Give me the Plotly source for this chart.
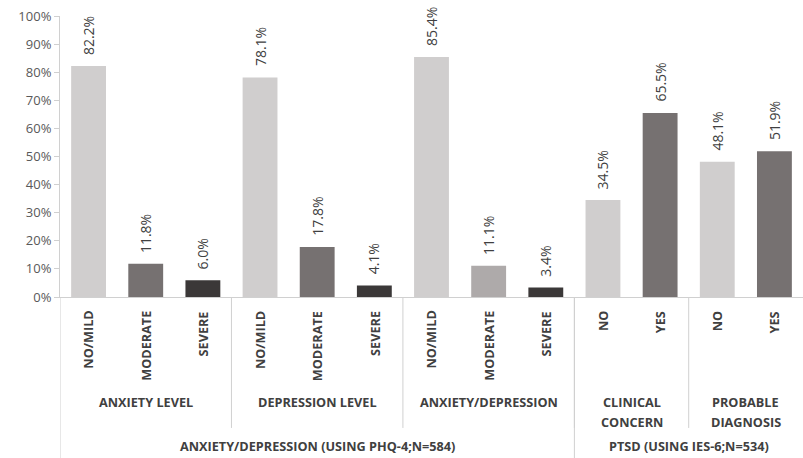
import plotly.graph_objects as go

# Three-level category structure and percentages
outer_groups = ["ANXIETY/DEPRESSION (USING PHQ-4;N=584)"] * 9 + ["PTSD (USING IES-6;N=534)"] * 4
inner_groups = (["ANXIETY LEVEL"] * 3 + ["DEPRESSION LEVEL"] * 3 + ["ANXIETY/DEPRESSION"] * 3
                + ["CLINICAL<br>CONCERN"] * 2 + ["PROBABLE<br>DIAGNOSIS"] * 2)
levels = ["NO/MILD", "MODERATE", "SEVERE", "NO/MILD", "MODERATE", "SEVERE",
          "NO/MILD", "MODERATE", "SEVERE", "NO", "YES", "NO", "YES"]
values = [82.2, 11.8, 6.0, 78.1, 17.8, 4.1, 85.4, 11.1, 3.4, 34.5, 65.5, 48.1, 51.9]

LIGHT, MID, PALE, DARK = "#d0cece", "#767171", "#aeaaaa", "#3b3838"
bar_colors = [LIGHT, MID, DARK, LIGHT, MID, DARK, LIGHT, PALE, DARK, LIGHT, MID, LIGHT, MID]

FONT = "Open Sans"
TXT = "#404040"
LINE = "#d0d0d0"
CAT_SIZE = 12.7

x = list(range(len(values)))

fig = go.Figure()
fig.add_trace(go.Bar(
    x=x, y=values, width=0.61,
    marker=dict(color=bar_colors, line=dict(width=0)),
    hoverinfo="skip",
))

annotations = []
# value labels above bars, rotated
for xi, v in zip(x, values):
    annotations.append(dict(
        x=xi, y=v, xref="x", yref="y", text=f"{v:.1f}%", showarrow=False,
        textangle=-90, yanchor="bottom", xanchor="center", yshift=9,
        font=dict(family=FONT, size=14, color=TXT),
    ))

# innermost category labels
for xi, lab in zip(x, levels):
    annotations.append(dict(
        x=xi, y=-0.043, xref="x", yref="paper", text=f"<b>{lab}</b>", showarrow=False,
        textangle=-90, yanchor="top", xanchor="center",
        font=dict(family=FONT, size=CAT_SIZE, color=TXT),
    ))


def spans(names):
    out = []
    start = 0
    for i in range(1, len(names) + 1):
        if i == len(names) or names[i] != names[start]:
            out.append((names[start], start, i - 1))
            start = i
    return out


shapes = []
for name, a, b in spans(inner_groups):
    # multi-line group names: one annotation per line, 20px apart
    for k, line in enumerate(name.split("<br>")):
        annotations.append(dict(
            x=(a + b) / 2, y=-0.374, xref="x", yref="paper", yshift=-20 * k,
            text=f"<b>{line}</b>", showarrow=False,
            yanchor="middle", xanchor="center",
            font=dict(family=FONT, size=CAT_SIZE, color=TXT),
        ))
    if b < len(values) - 1:
        shapes.append(dict(type="line", xref="x", yref="paper", x0=b + 0.5, x1=b + 0.5,
                           y0=0, y1=-0.466, line=dict(color=LINE, width=1)))

for name, a, b in spans(outer_groups):
    annotations.append(dict(
        x=(a + b) / 2, y=-0.532, xref="x", yref="paper", text=f"<b>{name}</b>",
        showarrow=False, yanchor="middle", xanchor="center",
        font=dict(family=FONT, size=CAT_SIZE, color=TXT),
    ))
    shapes.append(dict(type="line", xref="x", yref="paper", x0=a - 0.5, x1=a - 0.5,
                       y0=0, y1=-0.6, line=dict(color=LINE, width=1)))

fig.update_layout(
    width=803, height=458,
    margin=dict(l=60, r=0, t=16, b=161),
    paper_bgcolor="white", plot_bgcolor="white",
    showlegend=False,
    bargap=0.39,
    annotations=annotations,
    shapes=shapes,
    xaxis=dict(range=[-0.5, len(values) - 0.5], showticklabels=False, showgrid=False,
               zeroline=False, showline=True, linecolor=LINE, linewidth=1, ticks=""),
    yaxis=dict(range=[0, 100], dtick=10, ticksuffix="%", showgrid=False, zeroline=False,
               showline=True, linecolor=LINE, linewidth=1, ticks="outside", ticklen=5,
               tickcolor=LINE, tickfont=dict(family=FONT, size=13, color="#595959")),
)

fig.write_html("out.html")
